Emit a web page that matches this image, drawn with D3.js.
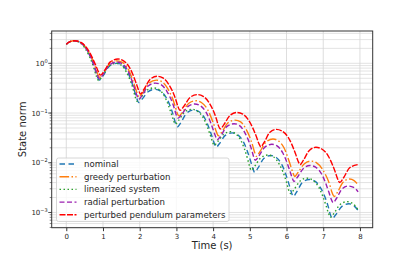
<!DOCTYPE html>
<html>
<head>
<meta charset="utf-8">
<script src="https://cdn.jsdelivr.net/npm/d3@7/dist/d3.min.js"></script>
<style>
  body { margin: 0; background: #fff; }
  text { font-family: "DejaVu Sans", sans-serif; fill: #262626; }
</style>
</head>
<body>
<svg width="415" height="260"></svg>
<script>
// series names, legend order
var seriesNames = ["nominal", "greedy perturbation", "linearized system", "radial perturbation", "perturbed pendulum parameters"];

// [time (s), state norm]
var nominal = [[0,2.42],[0.1,2.72],[0.22,2.85],[0.39,2.60],[0.56,1.86],[0.78,0.78],[0.84,0.56],[0.90,0.46],
  [1.00,0.56],[1.17,0.87],[1.38,1.00],[1.53,0.91],[1.68,0.65],[1.86,0.275],[1.92,0.198],[1.97,0.162],
  [2.06,0.189],[2.23,0.268],[2.42,0.30],[2.57,0.275],[2.73,0.200],[2.92,0.0875],[2.97,0.064],[3.03,0.053],
  [3.12,0.064],[3.28,0.100],[3.47,0.115],[3.62,0.106],[3.78,0.0767],[3.97,0.0338],[4.03,0.0248],[4.08,0.0205],
  [4.17,0.0242],[4.33,0.0355],[4.52,0.040],[4.67,0.0365],[4.83,0.0260],[5.02,0.0109],[5.08,0.00783],[5.13,0.0064],
  [5.22,0.00778],[5.38,0.01216],[5.57,0.0140],[5.72,0.01274],[5.88,0.00895],[6.07,0.00364],[6.13,0.00259],[6.18,0.0021],
  [6.27,0.00255],[6.43,0.0040],[6.62,0.0046],[6.78,0.00421],[6.94,0.00301],[7.14,0.00128],[7.19,0.000927],[7.25,0.00076],
  [7.34,0.000902],[7.51,0.00133],[7.70,0.00150],[7.83,0.00137],[7.95,0.00110]];

var greedy = [[0,2.42],[0.1,2.72],[0.22,2.85],[0.39,2.62],[0.565,1.91],[0.79,0.851],[0.85,0.627],[0.91,0.52],
  [1.01,0.63],[1.18,0.975],[1.39,1.12],[1.54,1.03],[1.69,0.755],[1.87,0.341],[1.93,0.252],[1.98,0.21],
  [2.08,0.255],[2.25,0.40],[2.45,0.46],[2.61,0.424],[2.76,0.312],[2.96,0.142],[3.01,0.105],[3.07,0.088],
  [3.17,0.105],[3.33,0.156],[3.53,0.177],[3.68,0.163],[3.84,0.121],[4.03,0.056],[4.09,0.0418],[4.14,0.035],
  [4.24,0.0419],[4.40,0.0632],[4.60,0.072],[4.75,0.0662],[4.89,0.0485],[5.08,0.0219],[5.13,0.0162],[5.18,0.0135],
  [5.27,0.0165],[5.44,0.026],[5.63,0.030],[5.78,0.0275],[5.93,0.020],[6.11,0.00875],[6.17,0.00641],[6.22,0.0053],
  [6.31,0.00632],[6.48,0.00948],[6.66,0.0108],[6.82,0.00993],[6.98,0.00735],[7.19,0.00337],[7.24,0.00251],[7.30,0.0021],
  [7.39,0.00256],[7.54,0.00406],[7.72,0.0047],[7.84,0.00436],[7.95,0.0036]];

var linearized = [[0,2.42],[0.1,2.74],[0.20,2.85],[0.37,2.60],[0.54,1.85],[0.76,0.769],[0.82,0.551],[0.88,0.45],
  [0.98,0.55],[1.15,0.867],[1.35,1.00],[1.50,0.916],[1.64,0.661],[1.83,0.287],[1.88,0.209],[1.93,0.172],
  [2.02,0.201],[2.19,0.286],[2.38,0.32],[2.53,0.294],[2.68,0.216],[2.86,0.0975],[2.92,0.0721],[2.97,0.060],
  [3.06,0.0711],[3.23,0.1052],[3.42,0.119],[3.57,0.1096],[3.73,0.0805],[3.92,0.0365],[3.98,0.027],[4.03,0.0225],
  [4.12,0.0263],[4.29,0.0375],[4.47,0.042],[4.61,0.0384],[4.76,0.0277],[4.94,0.0119],[4.99,0.00863],[5.04,0.0071],
  [5.13,0.00845],[5.30,0.01259],[5.49,0.0143],[5.65,0.01306],[5.80,0.0094],[6.00,0.00403],[6.05,0.00292],[6.11,0.0024],
  [6.20,0.00286],[6.37,0.00431],[6.55,0.0049],[6.71,0.00448],[6.88,0.0032],[7.08,0.00135],[7.14,0.000977],[7.20,0.00080],
  [7.29,0.000957],[7.46,0.00145],[7.65,0.00165],[7.80,0.00152],[7.95,0.00112]];

var radial = [[0,2.42],[0.1,2.72],[0.22,2.85],[0.39,2.61],[0.56,1.88],[0.78,0.817],[0.84,0.594],[0.90,0.49],
  [1.00,0.594],[1.17,0.923],[1.38,1.06],[1.53,0.973],[1.68,0.708],[1.86,0.313],[1.92,0.230],[1.97,0.19],
  [2.07,0.229],[2.23,0.350],[2.43,0.40],[2.59,0.369],[2.74,0.274],[2.94,0.1265],[2.99,0.0944],[3.05,0.079],
  [3.14,0.0931],[3.31,0.135],[3.50,0.152],[3.65,0.140],[3.81,0.103],[4.00,0.0469],[4.06,0.0348],[4.11,0.029],
  [4.21,0.0349],[4.37,0.0533],[4.57,0.061],[4.72,0.056],[4.86,0.0409],[5.05,0.0183],[5.10,0.0135],[5.15,0.0112],
  [5.24,0.0135],[5.41,0.0206],[5.60,0.0235],[5.75,0.0216],[5.90,0.0157],[6.09,0.00692],[6.15,0.00507],[6.20,0.0042],
  [6.29,0.00505],[6.46,0.00769],[6.64,0.0088],[6.80,0.00807],[6.96,0.00587],[7.15,0.0026],[7.21,0.00191],[7.27,0.00158],
  [7.36,0.00191],[7.51,0.00296],[7.68,0.0034],[7.83,0.0032],[7.95,0.0026]];

var perturbed = [[0,2.42],[0.1,2.72],[0.22,2.85],[0.40,2.63],[0.575,1.96],[0.80,0.92],[0.87,0.69],[0.93,0.58],
  [1.03,0.698],[1.20,1.067],[1.41,1.22],[1.56,1.124],[1.72,0.832],[1.91,0.385],[1.97,0.287],[2.02,0.24],
  [2.11,0.295],[2.28,0.473],[2.47,0.55],[2.63,0.508],[2.79,0.379],[2.99,0.179],[3.04,0.135],[3.10,0.113],
  [3.20,0.1355],[3.37,0.206],[3.57,0.235],[3.73,0.217],[3.89,0.162],[4.09,0.076],[4.14,0.0571],[4.20,0.048],
  [4.29,0.058],[4.46,0.0897],[4.64,0.103],[4.81,0.0951],[4.97,0.071],[5.18,0.0333],[5.24,0.025],[5.30,0.021],
  [5.39,0.0256],[5.54,0.0406],[5.72,0.047],[5.88,0.0434],[6.05,0.0321],[6.25,0.01476],[6.31,0.011],[6.37,0.0092],
  [6.46,0.01125],[6.62,0.01774],[6.80,0.0205],[6.96,0.0189],[7.13,0.01396],[7.33,0.00643],[7.39,0.00479],[7.45,0.0040],
  [7.55,0.00493],[7.72,0.00792],[7.95,0.0092]];

var xTicks = [0, 1, 2, 3, 4, 5, 6, 7, 8];
var yTickExps = [-3, -2, -1, 0];

var svg = d3.select("svg");
var plotL = 51.7, plotR = 372.7, plotT = 31, plotB = 227.7;

var x = d3.scaleLinear().domain([-0.3975, 8.3475]).range([plotL, plotR]);
var y = d3.scaleLog().domain([Math.pow(10, -3.306), Math.pow(10, 0.65)]).range([plotB, plotT]);

// grid, all y decades and sub-decades
var minorVals = [];
for (var k = -4; k <= 0; k++) {
    for (var m = 1; m <= 9; m++) {
        var v = m * Math.pow(10, k);
        if (v >= y.domain()[0] && v <= y.domain()[1]) minorVals.push(v);
    }
}
svg.append("g")
    .selectAll("line")
    .data(minorVals)
    .enter()
    .append("line")
    .attr("x1", plotL).attr("x2", plotR)
    .attr("y1", function (d) { return y(d); })
    .attr("y2", function (d) { return y(d); })
    .style("stroke", "#dcdcdc")
    .style("stroke-width", 0.8);

svg.append("g")
    .selectAll("line")
    .data(xTicks)
    .enter()
    .append("line")
    .attr("x1", function (d) { return x(d); })
    .attr("x2", function (d) { return x(d); })
    .attr("y1", plotT).attr("y2", plotB)
    .style("stroke", "#d4d4d4")
    .style("stroke-width", 0.8);

// lines
var series = [
    { name: seriesNames[0], data: nominal, color: "#1f77b4", dash: "5.5,3.5", width: 1.4 },
    { name: seriesNames[1], data: greedy, color: "#ff7f0e", dash: "9.6,2.4,1.5,2.4", width: 1.4 },
    { name: seriesNames[2], data: linearized, color: "#2ca02c", dash: "1.5,2.5", width: 1.4 },
    { name: seriesNames[3], data: radial, color: "#9b1fb0", dash: "5,2.5", width: 1.4 },
    { name: seriesNames[4], data: perturbed, color: "#ff0000", dash: "6,1.5", width: 1.4 }
];

var line = d3.line()
    .x(function (d) { return x(d[0]); })
    .y(function (d) { return y(d[1]); })
    .curve(d3.curveMonotoneX);

var plot = svg.append("g");
plot.selectAll("path")
    .data(series)
    .enter()
    .append("path")
    .attr("d", function (d) { return line(d.data); })
    .style("fill", "none")
    .style("stroke", function (d) { return d.color; })
    .style("stroke-width", function (d) { return d.width; })
    .style("stroke-dasharray", function (d) { return d.dash; });

// frame
svg.append("rect")
    .attr("x", plotL).attr("y", plotT)
    .attr("width", plotR - plotL).attr("height", plotB - plotT)
    .style("fill", "none")
    .style("stroke", "#333")
    .style("stroke-width", 1);

// x axis
var xAxis = d3.axisBottom(x).tickValues(xTicks).tickSize(3.5).tickPadding(3);
var gx = svg.append("g").attr("transform", "translate(0," + plotB + ")").call(xAxis);
gx.select(".domain").remove();
gx.selectAll("line").style("stroke", "#333");
gx.selectAll("text").style("font-size", "7px").style("font-family", "DejaVu Sans").style("fill", "#262626");

// y axis, minor ticks
var gy = svg.append("g").attr("transform", "translate(" + plotL + ",0)");
gy.selectAll("line.minor")
    .data(minorVals)
    .enter()
    .append("line")
    .attr("x1", -2).attr("x2", 0)
    .attr("y1", function (d) { return y(d); })
    .attr("y2", function (d) { return y(d); })
    .style("stroke", "#333")
    .style("stroke-width", 0.6);
gy.selectAll("line.major")
    .data(yTickExps)
    .enter()
    .append("line")
    .attr("x1", -3.5).attr("x2", 0)
    .attr("y1", function (d) { return y(Math.pow(10, d)); })
    .attr("y2", function (d) { return y(Math.pow(10, d)); })
    .style("stroke", "#333")
    .style("stroke-width", 0.8);
var ylab = gy.selectAll("text.tick")
    .data(yTickExps)
    .enter()
    .append("text")
    .attr("x", -4)
    .attr("y", function (d) { return y(Math.pow(10, d)) + 2.5; })
    .attr("text-anchor", "end")
    .style("font-size", "7px");
ylab.append("tspan").text("10");
ylab.append("tspan")
    .attr("dy", -3)
    .style("font-size", "5px")
    .text(function (d) { return d < 0 ? "\u2212" + (-d) : String(d); });

// axis labels
svg.append("text")
    .attr("x", (plotL + plotR) / 2)
    .attr("y", 249)
    .attr("text-anchor", "middle")
    .style("font-size", "10px")
    .text("Time (s)");
svg.append("text")
    .attr("transform", "translate(26," + (plotT + plotB) / 2 + ") rotate(-90)")
    .attr("text-anchor", "middle")
    .style("font-size", "10px")
    .text("State norm");

// legend
var legX = 56.5, legY = 158;
svg.append("rect")
    .attr("x", legX).attr("y", legY)
    .attr("width", 172.5).attr("height", 63.5)
    .attr("rx", 2)
    .style("fill", "#fff")
    .style("fill-opacity", 0.8)
    .style("stroke", "#cccccc")
    .style("stroke-width", 0.8);

var leg = svg.append("g")
    .selectAll("g")
    .data(series)
    .enter()
    .append("g")
    .attr("transform", function (d, i) { return "translate(" + legX + "," + (legY + 6 + i * 12.7) + ")"; });
leg.append("line")
    .attr("x1", 3).attr("x2", 20)
    .attr("y1", 0).attr("y2", 0)
    .style("stroke", function (d) { return d.color; })
    .style("stroke-width", function (d) { return d.width; })
    .style("stroke-dasharray", function (d) { return d.dash; });
leg.append("text")
    .attr("x", 27.5)
    .attr("y", 3)
    .style("font-size", "8.6px")
    .text(function (d) { return d.name; });
</script>
</body>
</html>
